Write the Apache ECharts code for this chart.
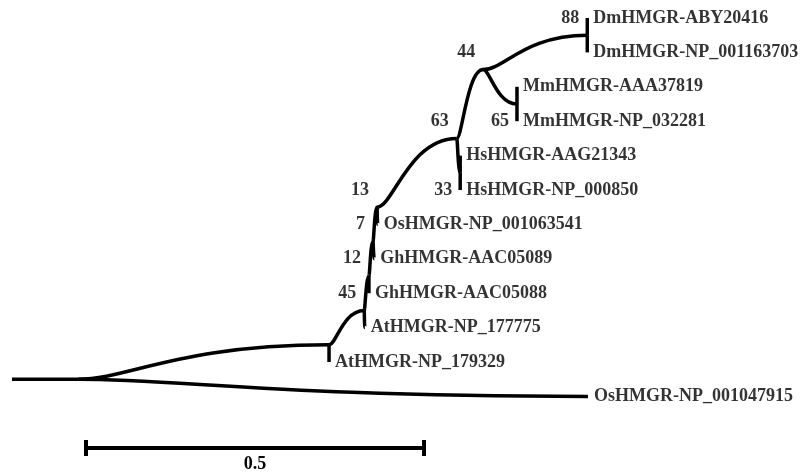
<!DOCTYPE html>
<html>
<head>
<meta charset="utf-8">
<script src="https://cdn.jsdelivr.net/npm/echarts@6/dist/echarts.min.js"></script>
<style>html,body{margin:0;padding:0;background:#fff;}#c{width:805px;height:474px;}</style>
</head>
<body>
<div id="c"></div>
<script>
// ---- Data ----
// Leaves, top to bottom
const leafNames = ['DmHMGR-ABY20416','DmHMGR-NP_001163703','MmHMGR-AAA37819','MmHMGR-NP_032281',
  'HsHMGR-AAG21343','HsHMGR-NP_000850','OsHMGR-NP_001063541','GhHMGR-AAC05089',
  'GhHMGR-AAC05088','AtHMGR-NP_177775','AtHMGR-NP_179329','OsHMGR-NP_001047915'];
// Distance from root (substitutions per site) of each leaf tip
const leafDepth = [0.851,0.851,0.747,0.747,0.663,0.663,0.541,0.536,0.528,0.522,0.469,0.852];
const leafParent = ['N9','N9','N10','N10','N7','N7','N5','N4','N3','N2','N1','N0'];
// Internal nodes
const nodeIds     = ['R','N0','N1','N2','N3','N4','N5','N6','N7','N8','N9','N10'];
const nodeParent  = [null,'R','N0','N1','N2','N3','N4','N5','N6','N6','N8','N8'];
const nodeDepth   = [0,0.098,0.469,0.521,0.528,0.534,0.540,0.658,0.663,0.697,0.851,0.747];
const nodeSupport = [null,null,null,45,12,7,13,63,33,44,88,65];
// Scale bar
const scaleBarStart = 0.1095;
const scaleBarLength = 0.5;
const scaleBarLabel = '0.5';

// ---- Layout: rows for internal nodes ----
const children = {};
nodeIds.forEach(id => children[id] = []);
nodeIds.forEach((id, i) => { if (nodeParent[i]) children[nodeParent[i]].push({type:'node', id}); });
leafNames.forEach((n, i) => children[leafParent[i]].push({type:'leaf', idx:i}));
const nodeRow = {}, nodeMin = {}, nodeMax = {};
function layout(id) {
  const ch = children[id].map(c => {
    if (c.type === 'leaf') return {min:c.idx, max:c.idx, row:c.idx};
    layout(c.id); return {min:nodeMin[c.id], max:nodeMax[c.id], row:nodeRow[c.id]};
  }).sort((a,b) => a.min - b.min);
  nodeMin[id] = ch[0].min; nodeMax[id] = ch[ch.length-1].max;
  nodeRow[id] = ch.length === 1 ? ch[0].row : (ch[0].max + ch[1].min) / 2;
}
layout('R');
const depthOf = {}; nodeIds.forEach((id,i) => depthOf[id] = nodeDepth[i]);

const branches = [];
nodeIds.forEach((id, i) => {
  const p = nodeParent[i];
  if (p) branches.push([depthOf[p], nodeRow[p], depthOf[id], nodeRow[id]]);
});
leafNames.forEach((n, i) => {
  const p = leafParent[i];
  branches.push([depthOf[p], nodeRow[p], leafDepth[i], i]);
});

const below = {N7:true, N10:true};
const supportData = [];
nodeIds.forEach((id, i) => {
  if (nodeSupport[i] != null) {
    supportData.push({value:[depthOf[id], nodeRow[id] + (below[id] ? 0.5 : -0.5)], name:String(nodeSupport[i])});
  }
});
const leafData = leafNames.map((n, i) => ({value:[leafDepth[i], i], name:n}));

const FONT = {fontFamily:'"Liberation Serif","Times New Roman",serif', fontWeight:'bold', fontSize:18, color:'#000'};

const chart = echarts.init(document.getElementById('c'), null, {renderer:'canvas'});
chart.setOption({
  animation:false,
  backgroundColor:'#fff',
  grid:{left:12, top:18, width:777.4, height:447.2},
  xAxis:{type:'value', min:0, max:1.15, show:false},
  yAxis:{type:'value', min:0, max:13, inverse:true, show:false},
  series:[
    {
      type:'custom',
      data:branches,
      renderItem:function(params, api){
        const p = api.coord([api.value(0), api.value(1)]);
        const c = api.coord([api.value(2), api.value(3)]);
        const dx = c[0] - p[0];
        return {
          type:'bezierCurve',
          shape:{x1:p[0], y1:p[1], x2:c[0], y2:c[1],
                 cpx1:p[0] + 0.2*dx, cpy1:p[1], cpx2:p[0] + 0.4*dx, cpy2:c[1]},
          style:{stroke:'#000', fill:null, lineWidth:3.5, lineCap:'butt'}
        };
      },
      z:2
    },
    {
      type:'scatter',
      data:leafData,
      symbolSize:0,
      label:Object.assign({show:true, position:'right', distance:6, formatter:p=>p.name}, FONT),
      silent:true
    },
    {
      type:'scatter',
      data:supportData,
      symbolSize:0,
      label:Object.assign({show:true, position:'left', distance:8, formatter:p=>p.name}, FONT),
      silent:true
    },
    {
      type:'custom',
      data:[[scaleBarStart, scaleBarStart + scaleBarLength, 12.5]],
      renderItem:function(params, api){
        const a = api.coord([api.value(0), api.value(2)]);
        const b = api.coord([api.value(1), api.value(2)]);
        const st = {stroke:'#000', lineWidth:4};
        return {type:'group', children:[
          {type:'line', shape:{x1:a[0], y1:a[1], x2:b[0], y2:b[1]}, style:st},
          {type:'line', shape:{x1:a[0], y1:a[1]-8, x2:a[0], y2:a[1]+8}, style:st},
          {type:'line', shape:{x1:b[0], y1:b[1]-8, x2:b[0], y2:b[1]+8}, style:st},
          {type:'text', x:(a[0]+b[0])/2, y:a[1]+16, style:{text:scaleBarLabel, fill:'#000',
            font:'bold 18px "Liberation Serif", serif', align:'center', verticalAlign:'middle'}}
        ]};
      }
    }
  ]
});
</script>
</body>
</html>
